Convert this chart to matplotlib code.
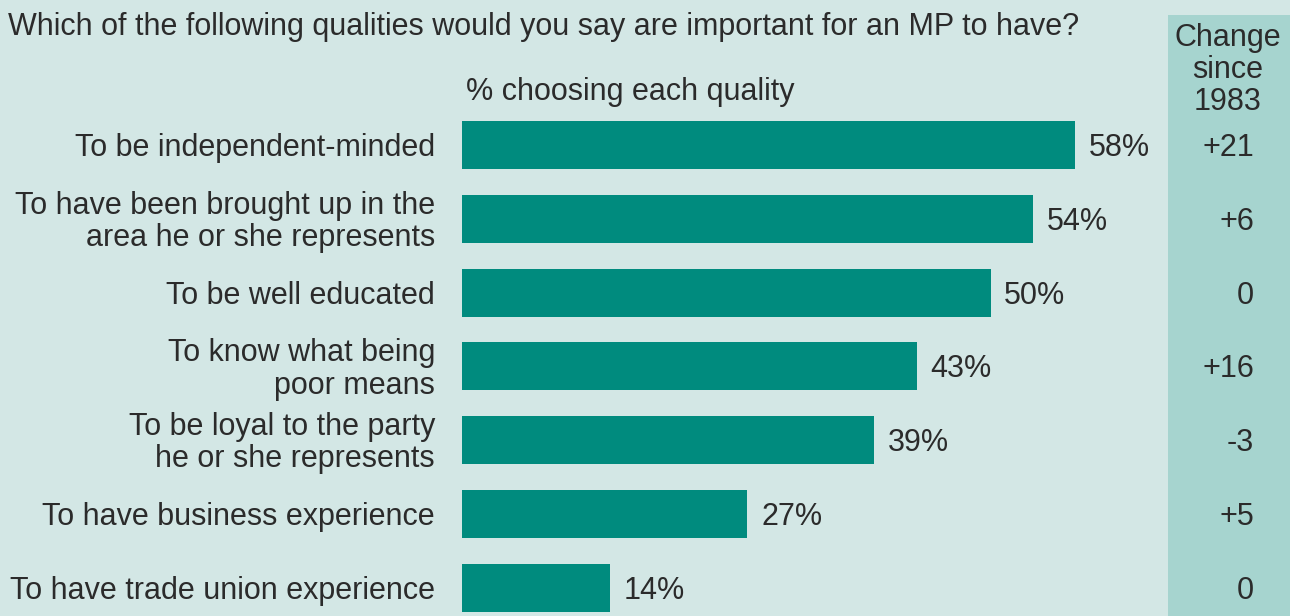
import matplotlib
matplotlib.use("Agg")
import matplotlib.pyplot as plt
from matplotlib.patches import Rectangle
import matplotlib.transforms as mtransforms

categories = [
    "To be independent-minded",
    "To have been brought up in the\narea he or she represents",
    "To be well educated",
    "To know what being\npoor means",
    "To be loyal to the party\nhe or she represents",
    "To have business experience",
    "To have trade union experience",
]
values = [58, 54, 50, 43, 39, 27, 14]
changes = ["+21", "+6", "0", "+16", "-3", "+5", "0"]

BG = "#D3E7E5"
BAR = "#008B7E"
COL = "#A6D4CF"
TXT = "#2b2b2b"
FONT = ["Liberation Sans", "DejaVu Sans"]
plt.rcParams["font.family"] = FONT

W, H = 1290, 616
fig = plt.figure(figsize=(W / 100, H / 100), dpi=100)
fig.patch.set_facecolor(BG)

def px(x, y):
    return x / W, 1 - y / H

# change column background
fig.patches.append(Rectangle((1168 / W, 0), (1290 - 1168) / W, 1 - 15 / H,
                             transform=fig.transFigure, facecolor=COL,
                             edgecolor="none", zorder=-5))

# axes for bars
left, right = 462, 1160
step = 73.8
top = 145 - 0.5 * step
ymax = 6.38
bottom = 145 + ymax * step
ax = fig.add_axes([left / W, 1 - bottom / H, (right - left) / W, (bottom - top) / H])
ax.set_facecolor("none")
ax.set_xlim(0, (right - left) / 10.57)
ax.set_ylim(ymax, -0.5)
ax.axis("off")

ypos = list(range(len(categories)))
ax.barh(ypos, values, height=0.65, color=BAR, zorder=2)

fs = 22.0
dy = 3 / step
trans_lab = mtransforms.blended_transform_factory(fig.transFigure, ax.transData)
for i, (cat, v, ch) in enumerate(zip(categories, values, changes)):
    fig.text(435 / W, i + dy, cat, transform=trans_lab, ha="right", va="center",
             fontsize=fs, color=TXT, linespacing=1.1)
    ax.text(v + 1.3, i + dy, f"{v}%", ha="left", va="center", fontsize=fs, color=TXT)
    fig.text(1254 / W, i + dy, ch, transform=trans_lab, ha="right", va="center",
             fontsize=fs, color=TXT, zorder=5)

fig.text(*px(8, 27), "Which of the following qualities would you say are important for an MP to have?",
         ha="left", va="center", fontsize=fs, color=TXT)
fig.text(*px(466, 92), "% choosing each quality", ha="left", va="center",
         fontsize=fs, color=TXT)
fig.text(*px(1228, 70), "Change\nsince\n1983", ha="center", va="center",
         fontsize=fs, color=TXT, linespacing=1.07)

fig.savefig("out.png", dpi=100, facecolor=BG)
